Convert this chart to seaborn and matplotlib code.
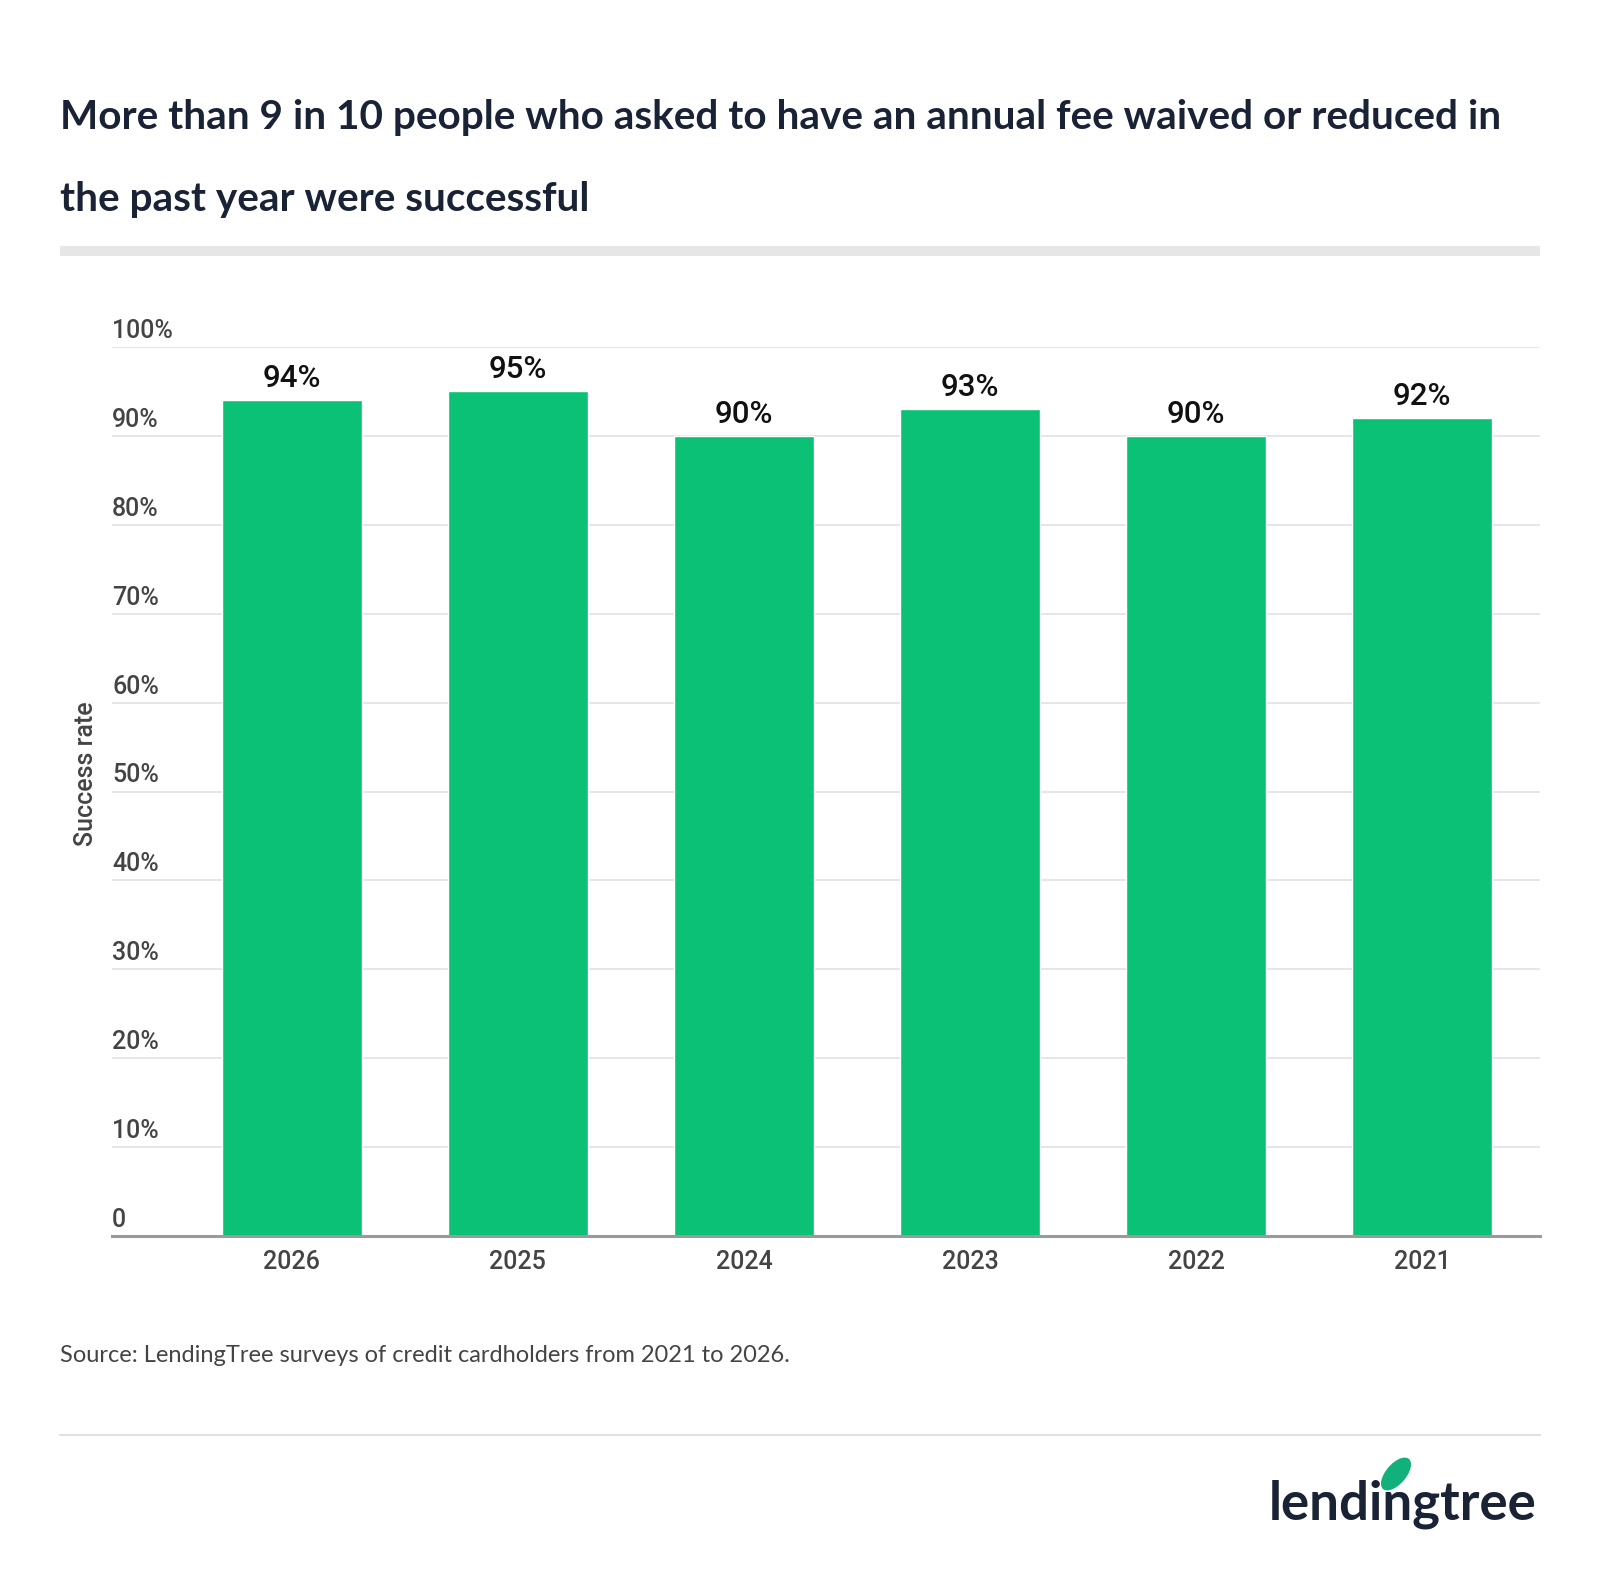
import matplotlib
matplotlib.use("Agg")
import matplotlib.pyplot as plt
import seaborn as sns
from matplotlib.patches import Rectangle, Ellipse
from matplotlib.lines import Line2D

sns.set_theme(style="white")
plt.rcParams['font.family'] = ['Roboto', 'DejaVu Sans']

# data
years = ['2026', '2025', '2024', '2023', '2022', '2021']
success = [94, 95, 90, 93, 90, 92]
y_ticks = [0, 10, 20, 30, 40, 50, 60, 70, 80, 90, 100]
y_tick_labels = ['0', '10%', '20%', '30%', '40%', '50%', '60%', '70%', '80%', '90%', '100%']

title_1 = 'More than 9 in 10 people who asked to have an annual fee waived or reduced in'
title_2 = 'the past year were successful'
source = 'Source: LendingTree surveys of credit cardholders from 2021 to 2026.'

GREEN = '#0bc175'
NAVY = '#1a2335'
GREY_TXT = '#444444'

W, H = 1600, 1578
fig = plt.figure(figsize=(W / 100, H / 100), dpi=100)
fig.patch.set_facecolor('white')

def fx(px):
    return px / W

def fy(py):
    return 1 - py / H

ax_l, ax_r, ax_t, ax_b = 112, 1540, 347, 1236
ax = fig.add_axes([fx(ax_l), fy(ax_b), fx(ax_r - ax_l), (ax_b - ax_t) / H])

sns.barplot(x=years, y=success, color=GREEN, width=0.62, saturation=1, ax=ax, zorder=3)
ax.set_xlim(-0.796, 5.522)
ax.set_ylim(0, 100)

for s in ['top', 'right', 'left']:
    ax.spines[s].set_visible(False)
ax.spines['bottom'].set_color('#9a9a9a')
ax.spines['bottom'].set_linewidth(2.2)
ax.spines['bottom'].set_zorder(5)

ax.set_yticks(y_ticks)
ax.set_yticklabels([])
ax.tick_params(axis='y', length=0)
ax.grid(axis='y', color='#e6e6e6', linewidth=1.4, zorder=0)
ax.set_axisbelow(True)

tr = ax.get_yaxis_transform()
for v, lab in zip(y_ticks, y_tick_labels):
    ax.text(0, v + 0.45, lab, transform=tr, ha='left', va='bottom',
            fontsize=18, fontweight='medium', color=GREY_TXT)

ax.tick_params(axis='x', length=0, pad=10, labelsize=18, labelcolor=GREY_TXT)
for t in ax.get_xticklabels():
    t.set_fontweight('medium')
ax.set_xlabel('')
ax.set_ylabel('Success rate', fontsize=18, fontweight='medium', color=GREY_TXT, labelpad=0)
ax.yaxis.set_label_coords(-(ax_l - 98) / (ax_r - ax_l), 0.52)

for i, v in enumerate(success):
    ax.text(i, v + 0.8, f'{v}%', ha='center', va='bottom', fontsize=22.5,
            fontweight='medium', color='#111111', zorder=6)

# title
fig.text(fx(60), fy(118), title_1, family=['Lato', 'DejaVu Sans'], fontweight='bold',
         fontsize=29.2, color=NAVY, ha='left', va='center')
fig.text(fx(60), fy(199), title_2, family=['Lato', 'DejaVu Sans'], fontweight='bold',
         fontsize=29.2, color=NAVY, ha='left', va='center')

# separator band under title
fig.patches.append(Rectangle((fx(60), fy(256)), fx(1540 - 60), 10 / H,
                             transform=fig.transFigure, facecolor='#e6e6e6',
                             edgecolor='none'))

# source
fig.text(fx(60), fy(1356), source, family=['Lato', 'DejaVu Sans'], fontsize=17,
         color=GREY_TXT, ha='left', va='center')

# bottom rule
fig.lines.append(Line2D([fx(60), fx(1540)], [fy(1435), fy(1435)],
                        transform=fig.transFigure, color='#e0e0e0', linewidth=1.5))

# logo
fig.text(fx(1536), fy(1504), 'lendingtree', family=['Lato', 'DejaVu Sans'],
         fontweight='bold', fontsize=38, color=NAVY, ha='right', va='center')
fig.patches.append(Ellipse((fx(1396), fy(1474)), fx(40), 20 / H, angle=50,
                           transform=fig.transFigure, facecolor='#12b07a',
                           edgecolor='none'))

fig.savefig('out.png', dpi=100, facecolor='white')
